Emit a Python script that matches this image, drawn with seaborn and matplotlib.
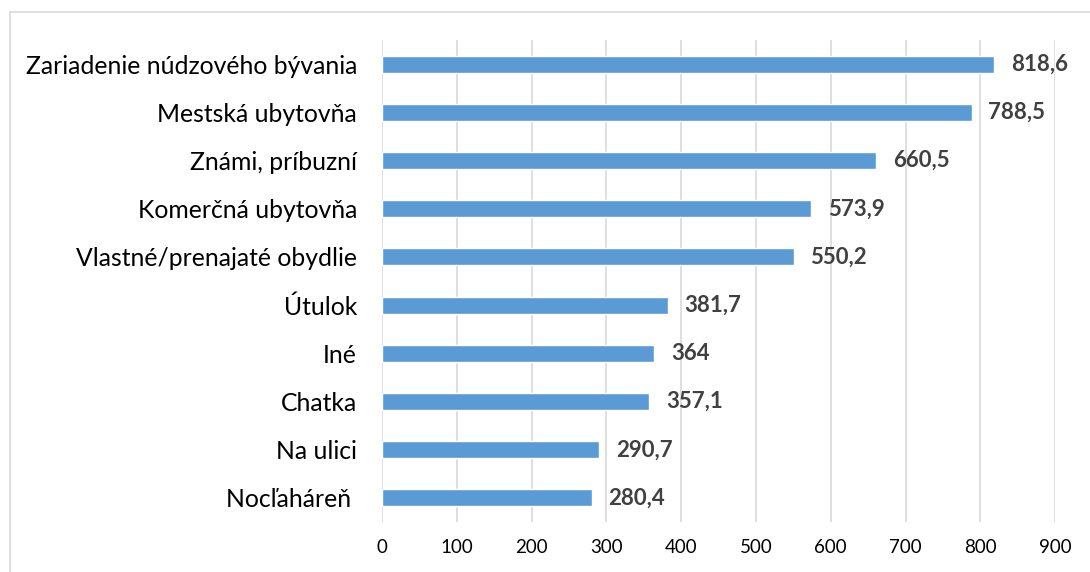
import matplotlib
matplotlib.use("Agg")
import matplotlib.pyplot as plt
import seaborn as sns
import pandas as pd
from matplotlib.lines import Line2D

# data
kategorie = [
    "Zariadenie núdzového bývania",
    "Mestská ubytovňa",
    "Známi, príbuzní",
    "Komerčná ubytovňa",
    "Vlastné/prenajaté obydlie",
    "Útulok",
    "Iné",
    "Chatka",
    "Na ulici",
    "Nocľaháreň ",
]
hodnoty = [818.6, 788.5, 660.5, 573.9, 550.2, 381.7, 364, 357.1, 290.7, 280.4]
popisky = ["818,6", "788,5", "660,5", "573,9", "550,2", "381,7", "364", "357,1", "290,7", "280,4"]
x_ticks = [0, 100, 200, 300, 400, 500, 600, 700, 800, 900]

dF = pd.DataFrame({"kategoria": kategorie, "hodnota": hodnoty})

sns.set_style("white")
plt.rcParams['font.family'] = ['Lato', 'DejaVu Sans']

fig = plt.figure(figsize=(10.9, 5.72), dpi=100)
ax = fig.add_axes([0.3505, 0.0874, 0.6175, 0.8426])

sns.barplot(data=dF, x="hodnota", y="kategoria", orient="h", color="#5B9BD5",
            width=0.35, saturation=1, ax=ax, zorder=3)

# popisky hodnot
for i, (v, t) in enumerate(zip(hodnoty, popisky)):
    ax.annotate(t, (v, i), xytext=(12, 0), textcoords="offset points",
                ha="left", va="center", fontsize=16, fontweight="bold", color="#404040")

ax.set_xlim(0, 900)
ax.set_xticks(x_ticks)
ax.set_xticklabels([str(x) for x in x_ticks])
ax.xaxis.grid(True, color="#D9D9D9", linewidth=1.2, zorder=0)
ax.yaxis.grid(False)
ax.set_axisbelow(True)
for s in ax.spines.values():
    s.set_visible(False)
ax.set_xlabel("")
ax.set_ylabel("")
ax.tick_params(axis="x", length=0, pad=12, labelsize=13.5, labelcolor="#000000")
ax.tick_params(axis="y", length=0, pad=18, labelsize=17.8, labelcolor="#000000")

# ramcek okolo grafu
fig.add_artist(Line2D([10 / 1090, 10 / 1090], [0, 1 - 12 / 572], transform=fig.transFigure,
                      color="#D9D9D9", linewidth=1.2))
fig.add_artist(Line2D([10 / 1090, 1], [1 - 12 / 572, 1 - 12 / 572], transform=fig.transFigure,
                      color="#D9D9D9", linewidth=1.2))

fig.savefig("out.png", dpi=100)
